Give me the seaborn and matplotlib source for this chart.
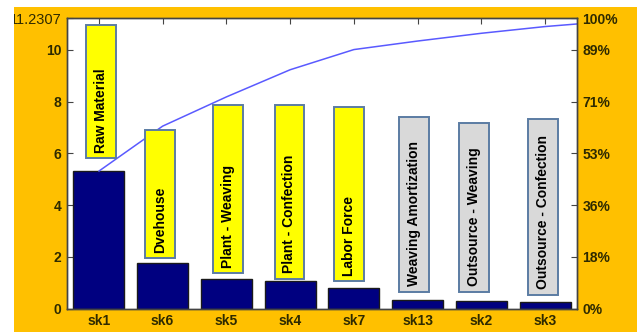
import numpy as np
import pandas as pd
import matplotlib
matplotlib.use("Agg")
import matplotlib.pyplot as plt
import seaborn as sns
from matplotlib.patches import Rectangle

# ---------------- data ----------------
categories = ["sk1", "sk6", "sk5", "sk4", "sk7", "sk13", "sk2", "sk3"]
values = [5.31, 1.74, 1.13, 1.05, 0.78, 0.33, 0.30, 0.26]
hidden_tail = [0.20, 0.13]          # remaining items, beyond the visible x range
total = 11.2307
labels = ["Raw Material", "Dvehouse", "Plant - Weaving", "Plant - Confection",
          "Labor Force", "Weaving Amortization", "Outsource - Weaving",
          "Outsource - Confection"]
label_group = ["main"] * 5 + ["other"] * 3
left_ticks = [0, 2, 4, 6, 8, 10, total]
left_tick_labels = ["0", "2", "4", "6", "8", "10", "11.2307"]

# ---------------- layout of the label boxes (data units) ----------------
box_bottom = [5.80, 1.95, 1.37, 1.14, 1.06, 0.64, 0.64, 0.52]
box_top = [10.96, 6.92, 7.88, 7.88, 7.80, 7.42, 7.19, 7.34]
box_shift = [0.03, -0.04, 0.02, -0.01, -0.07, -0.06, -0.12, -0.04]
box_colors = {"main": "#FFFF00", "other": "#D9D9D9"}

ORANGE = "#FFC000"
TXT = "#2e2a00"

sns.set_theme(style="white")
plt.rcParams["font.family"] = ["Liberation Sans", "DejaVu Sans"]

W, H = 637, 333
fig = plt.figure(figsize=(W / 100, H / 100), dpi=100, facecolor="white")
fig.add_artist(Rectangle((13 / W, 1.5 / H), 1 - 13 / W, 1 - 8.5 / H,
                         transform=fig.transFigure, facecolor=ORANGE,
                         edgecolor="none", zorder=-10))

ax = fig.add_axes([67 / W, (H - 308.5) / H, 510 / W, 290.5 / H])
ax.set_facecolor("white")

df = pd.DataFrame({"cat": categories, "val": values})
sns.barplot(data=df, x="cat", y="val", color="#000080", saturation=1,
            width=0.8, edgecolor="#1a1a1a", linewidth=1, ax=ax, zorder=2)

all_vals = values + hidden_tail
cum = np.cumsum(all_vals)
sns.lineplot(x=np.arange(len(all_vals)), y=cum, color="#5a5aff", lw=1.1,
             ax=ax, zorder=2.5)

pos = np.arange(len(categories)) + np.array(box_shift)
ax.bar(pos, np.subtract(box_top, box_bottom), bottom=box_bottom, width=0.47,
       color=[box_colors[g] for g in label_group], edgecolor="#5b7ca3",
       linewidth=1.4, zorder=3)
for p, b, lab in zip(pos, box_bottom, labels):
    ax.annotate(lab, xy=(p, b), xytext=(0, 4.0), textcoords="offset points",
                rotation=90, ha="center", va="bottom", fontsize=10,
                fontweight="bold", color="black", zorder=4)

ax.set_xlim(-0.5, len(categories) - 0.5)
ax.set_ylim(0, total)
ax.set_yticks(left_ticks)
ax.set_yticklabels(left_tick_labels)
ax.set_xlabel("")
ax.set_ylabel("")
ax.tick_params(axis="both", direction="in", length=4, width=0.8,
               color="#444444", labelcolor=TXT, labelsize=10, pad=4,
               top=True, bottom=True, left=True, right=False)

ax2 = ax.twinx()
ax2.set_ylim(0, 100)
pct = [t / total * 100 for t in left_ticks]
ax2.set_yticks(pct)
ax2.set_yticklabels([f"{p:.0f}%" for p in pct])
ax2.tick_params(axis="y", direction="in", length=4, width=0.8,
                color="#444444", labelcolor=TXT, labelsize=10, pad=4)
ax2.grid(False)
ax.grid(False)

for lab in ax.get_xticklabels() + ax.get_yticklabels() + ax2.get_yticklabels():
    lab.set_fontweight("bold")
top_lab = ax.get_yticklabels()[-1]
top_lab.set_fontweight("normal")
top_lab.set_fontsize(10.5)

for a in (ax, ax2):
    for s in a.spines.values():
        s.set_color("#444444")
        s.set_linewidth(1)

fig.add_artist(Rectangle((0, 0), 14 / W, 1, transform=fig.transFigure,
                         facecolor="white", edgecolor="none", zorder=20))

fig.savefig("out.png", dpi=100, facecolor=fig.get_facecolor())
